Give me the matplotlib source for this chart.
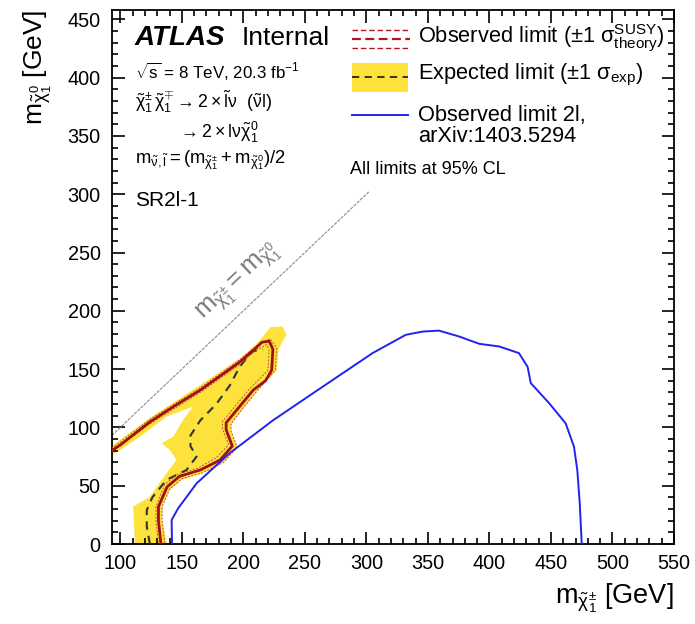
import matplotlib
matplotlib.use("Agg")
import matplotlib.pyplot as plt
from matplotlib.lines import Line2D
from matplotlib.patches import Rectangle, Polygon
from matplotlib.ticker import MultipleLocator

plt.rcParams['font.family'] = ['Liberation Sans', 'DejaVu Sans']
plt.rcParams['mathtext.fontset'] = 'custom'
plt.rcParams['mathtext.rm'] = 'Liberation Sans'
plt.rcParams['mathtext.it'] = 'Liberation Sans:italic'
plt.rcParams['mathtext.bf'] = 'Liberation Sans:bold'

# ---------------- data ----------------
# Observed limit 2l (arXiv:1403.5294)
blue_x = [142, 141.7, 147, 162, 189, 224, 264.6, 305, 332, 345.7, 359, 375.3, 391.7,
          408, 424, 431, 433.6, 448.5, 462, 468.7, 471.4, 473.4, 475]
blue_y = [0, 20.6, 30.6, 52, 78, 106, 135, 163.7, 179.4, 182.2, 183, 178, 171.7,
          169.4, 163.7, 152, 138, 120.8, 103.4, 83.5, 63.5, 35, 0]

# Observed limit (this analysis)
obs_x = [93, 100, 124, 145, 165, 185, 197, 210, 215, 221, 224, 223, 218, 208, 197,
         186, 186, 191, 181, 165, 148, 138, 131, 131, 133]
obs_y = [80, 85, 104.7, 119, 132, 147, 156, 168, 173, 174, 167, 149, 140, 132, 118,
         104, 98, 84, 72, 63.5, 58, 49, 32, 20, 0]

# +-1 sigma theory variations of observed limit
thup_x = [93, 124, 165, 197, 212, 222, 227, 226, 211, 200, 190, 190, 195, 184, 167,
          150, 140, 134, 134, 136]
thup_y = [82, 107, 134, 158, 171, 176, 168, 149, 131, 117, 103, 97, 83, 70, 61,
          56, 47, 32, 20, 0]
thdn_x = [93, 124, 165, 197, 210, 219, 221, 220, 205, 194, 183, 183, 188, 178, 163,
          147, 136, 129, 129, 131]
thdn_y = [79, 103, 130, 154, 166, 171, 166, 149, 133, 119, 105, 99, 85, 74, 65,
          60, 51, 32, 20, 0]

# Expected limit
exp_x = [124, 121.5, 121.5, 126, 137.6, 153.8, 162, 157, 157, 165, 178, 189, 197,
         207, 216]
exp_y = [0, 15, 29, 40, 55, 63.5, 75, 84, 93, 106, 120, 136, 152, 165, 167]

# +-1 sigma experimental band (outline)
band_x = [93, 124, 164.6, 197, 212, 222, 232, 235, 229, 227, 211, 200, 190, 190,
          195, 184, 167, 150, 140, 134, 134, 138, 111.9, 110.5, 124, 137.6, 145.7,
          140.3, 133.5, 143, 151, 159.2, 137.6, 116, 93]
band_y = [84, 108, 136, 159, 173, 186, 186.5, 179.4, 168, 149, 131, 116, 103, 97,
          83, 70, 61, 55, 46, 32, 20, 0, 0, 32, 40.6, 60.7, 72.1, 80.7, 86.4, 92,
          106.4, 117.9, 109.3, 92, 76]

# kinematic limit line m_chi+- = m_chi0
diag_x = [93, 302]
diag_y = [93, 302]

x_range = (93, 550)
y_range = (0, 458)

# ---------------- figure ----------------
W, H = 695, 624
fig = plt.figure(figsize=(W / 100, H / 100), dpi=100)
ax = fig.add_axes([111.7 / W, 1 - 544 / H, (674 - 111.7) / W, (544 - 10) / H])

def fx(px):
    return px / W

def fy(py):
    return 1 - py / H

CHI = r'\tilde{\mathrm{\chi}}'

ax.add_patch(Polygon(list(zip(band_x, band_y)), closed=True, facecolor='#fde23c',
                     edgecolor='none', zorder=1))
ax.plot(diag_x, diag_y, color='#8c8c8c', lw=0.8, ls=(0, (3, 1)), zorder=2)
ax.plot(exp_x, exp_y, color='#333333', lw=1.5, ls=(0, (4, 3)), zorder=3)
ax.plot(thup_x, thup_y, color='#c0504d', lw=0.7, ls=(0, (2, 1.5)), zorder=3)
ax.plot(thdn_x, thdn_y, color='#c0504d', lw=0.7, ls=(0, (2, 1.5)), zorder=3)
ax.plot(obs_x, obs_y, color='#a01010', lw=2.0, zorder=4)
ax.plot(blue_x, blue_y, color='#2222ee', lw=1.4, zorder=4)

ax.set_xlim(*x_range)
ax.set_ylim(*y_range)
ax.xaxis.set_major_locator(MultipleLocator(50))
ax.xaxis.set_minor_locator(MultipleLocator(10))
ax.yaxis.set_major_locator(MultipleLocator(50))
ax.yaxis.set_minor_locator(MultipleLocator(10))
ax.tick_params(which='both', direction='in', top=True, right=True, width=1.2)
ax.tick_params(which='major', length=9, labelsize=14.3)
ax.tick_params(which='minor', length=4.5)
ax.tick_params(axis='x', pad=7)
ax.tick_params(axis='y', pad=8)
for s in ax.spines.values():
    s.set_linewidth(1.3)

# axis labels
fig.text(fx(674), fy(598), r'$\mathrm{m}_{' + CHI + r'_1^{\pm}}$ [GeV]', ha='right',
         va='center', fontsize=19.5)
fig.text(fx(38), fy(10), r'$\mathrm{m}_{' + CHI + r'_1^{0}}$ [GeV]', ha='center',
         va='top', rotation=90, fontsize=19)

# diagonal label
ax.text(0.226, 0.49,
        r'$\mathrm{m}_{' + CHI + r'_1^{\pm}} = \mathrm{m}_{' + CHI + r'_1^{0}}$',
        transform=ax.transAxes, rotation=43.4, color='#7a7a7a', fontsize=18.5,
        ha='center', va='center')

# top-left text
fig.text(fx(135), fy(38), 'ATLAS', fontsize=20, fontweight='bold', fontstyle='italic',
         ha='left', va='center')
fig.text(fx(242), fy(38), 'Internal', fontsize=19, ha='left', va='center')
fig.text(fx(135), fy(72), r'$\sqrt{\mathrm{s}}$ = 8 TeV, 20.3 fb$^{-1}$', fontsize=12.2,
         ha='left', va='center')
fig.text(fx(135), fy(102),
         r'$' + CHI + r'_1^{\pm}\,' + CHI + r'_1^{\mp} \rightarrow 2\times\tilde{\mathrm{l}}\mathrm{\nu}\ \ (\tilde{\mathrm{\nu}}\mathrm{l})$',
         fontsize=12.8, ha='left', va='center')
fig.text(fx(178), fy(132), r'$\rightarrow 2\times\mathrm{l}\mathrm{\nu}' + CHI + r'_1^0$',
         fontsize=12.8, ha='left', va='center')
fig.text(fx(135), fy(160),
         r'$\mathrm{m}_{\tilde{\mathrm{\nu}},\tilde{\mathrm{l}}} = (\mathrm{m}_{' + CHI
         + r'_1^{\pm}} + \mathrm{m}_{' + CHI + r'_1^0})/2$',
         fontsize=13.3, ha='left', va='center')
fig.text(fx(135), fy(200), 'SR2l-1', fontsize=15, ha='left', va='center')

# legend
for py, lw in ((30, 1.0), (39, 1.6), (48, 1.0)):
    fig.add_artist(Line2D([fx(352), fx(410)], [fy(py), fy(py)], color='#b01818', lw=lw,
                          ls=(0, (4, 2))))
fig.add_artist(Rectangle((fx(352), fy(92)), fx(408) - fx(352), fy(63) - fy(92),
                         transform=fig.transFigure, facecolor='#fde23c',
                         edgecolor='none'))
fig.add_artist(Line2D([fx(352), fx(408)], [fy(77), fy(77)], color='#222222', lw=1.3,
                      ls=(0, (4, 3))))
fig.add_artist(Line2D([fx(352), fx(408)], [fy(115), fy(115)], color='#2222ee', lw=1.4))

LFS = 15.7
fig.text(fx(418), fy(38),
         r'Observed limit ($\pm$1 $\mathrm{\sigma}^{\mathrm{SUSY}}_{\mathrm{theory}}$)',
         fontsize=LFS, ha='left', va='center')
fig.text(fx(418), fy(75), r'Expected limit ($\pm$1 $\mathrm{\sigma}_{\mathrm{exp}}$)',
         fontsize=LFS, ha='left', va='center')
fig.text(fx(418), fy(116), 'Observed limit 2l,', fontsize=LFS, ha='left', va='center')
fig.text(fx(418), fy(137), 'arXiv:1403.5294', fontsize=LFS, ha='left', va='center')
fig.text(fx(350), fy(170), 'All limits at 95% CL', fontsize=13, ha='left', va='center')

fig.savefig('out.png', dpi=100)
